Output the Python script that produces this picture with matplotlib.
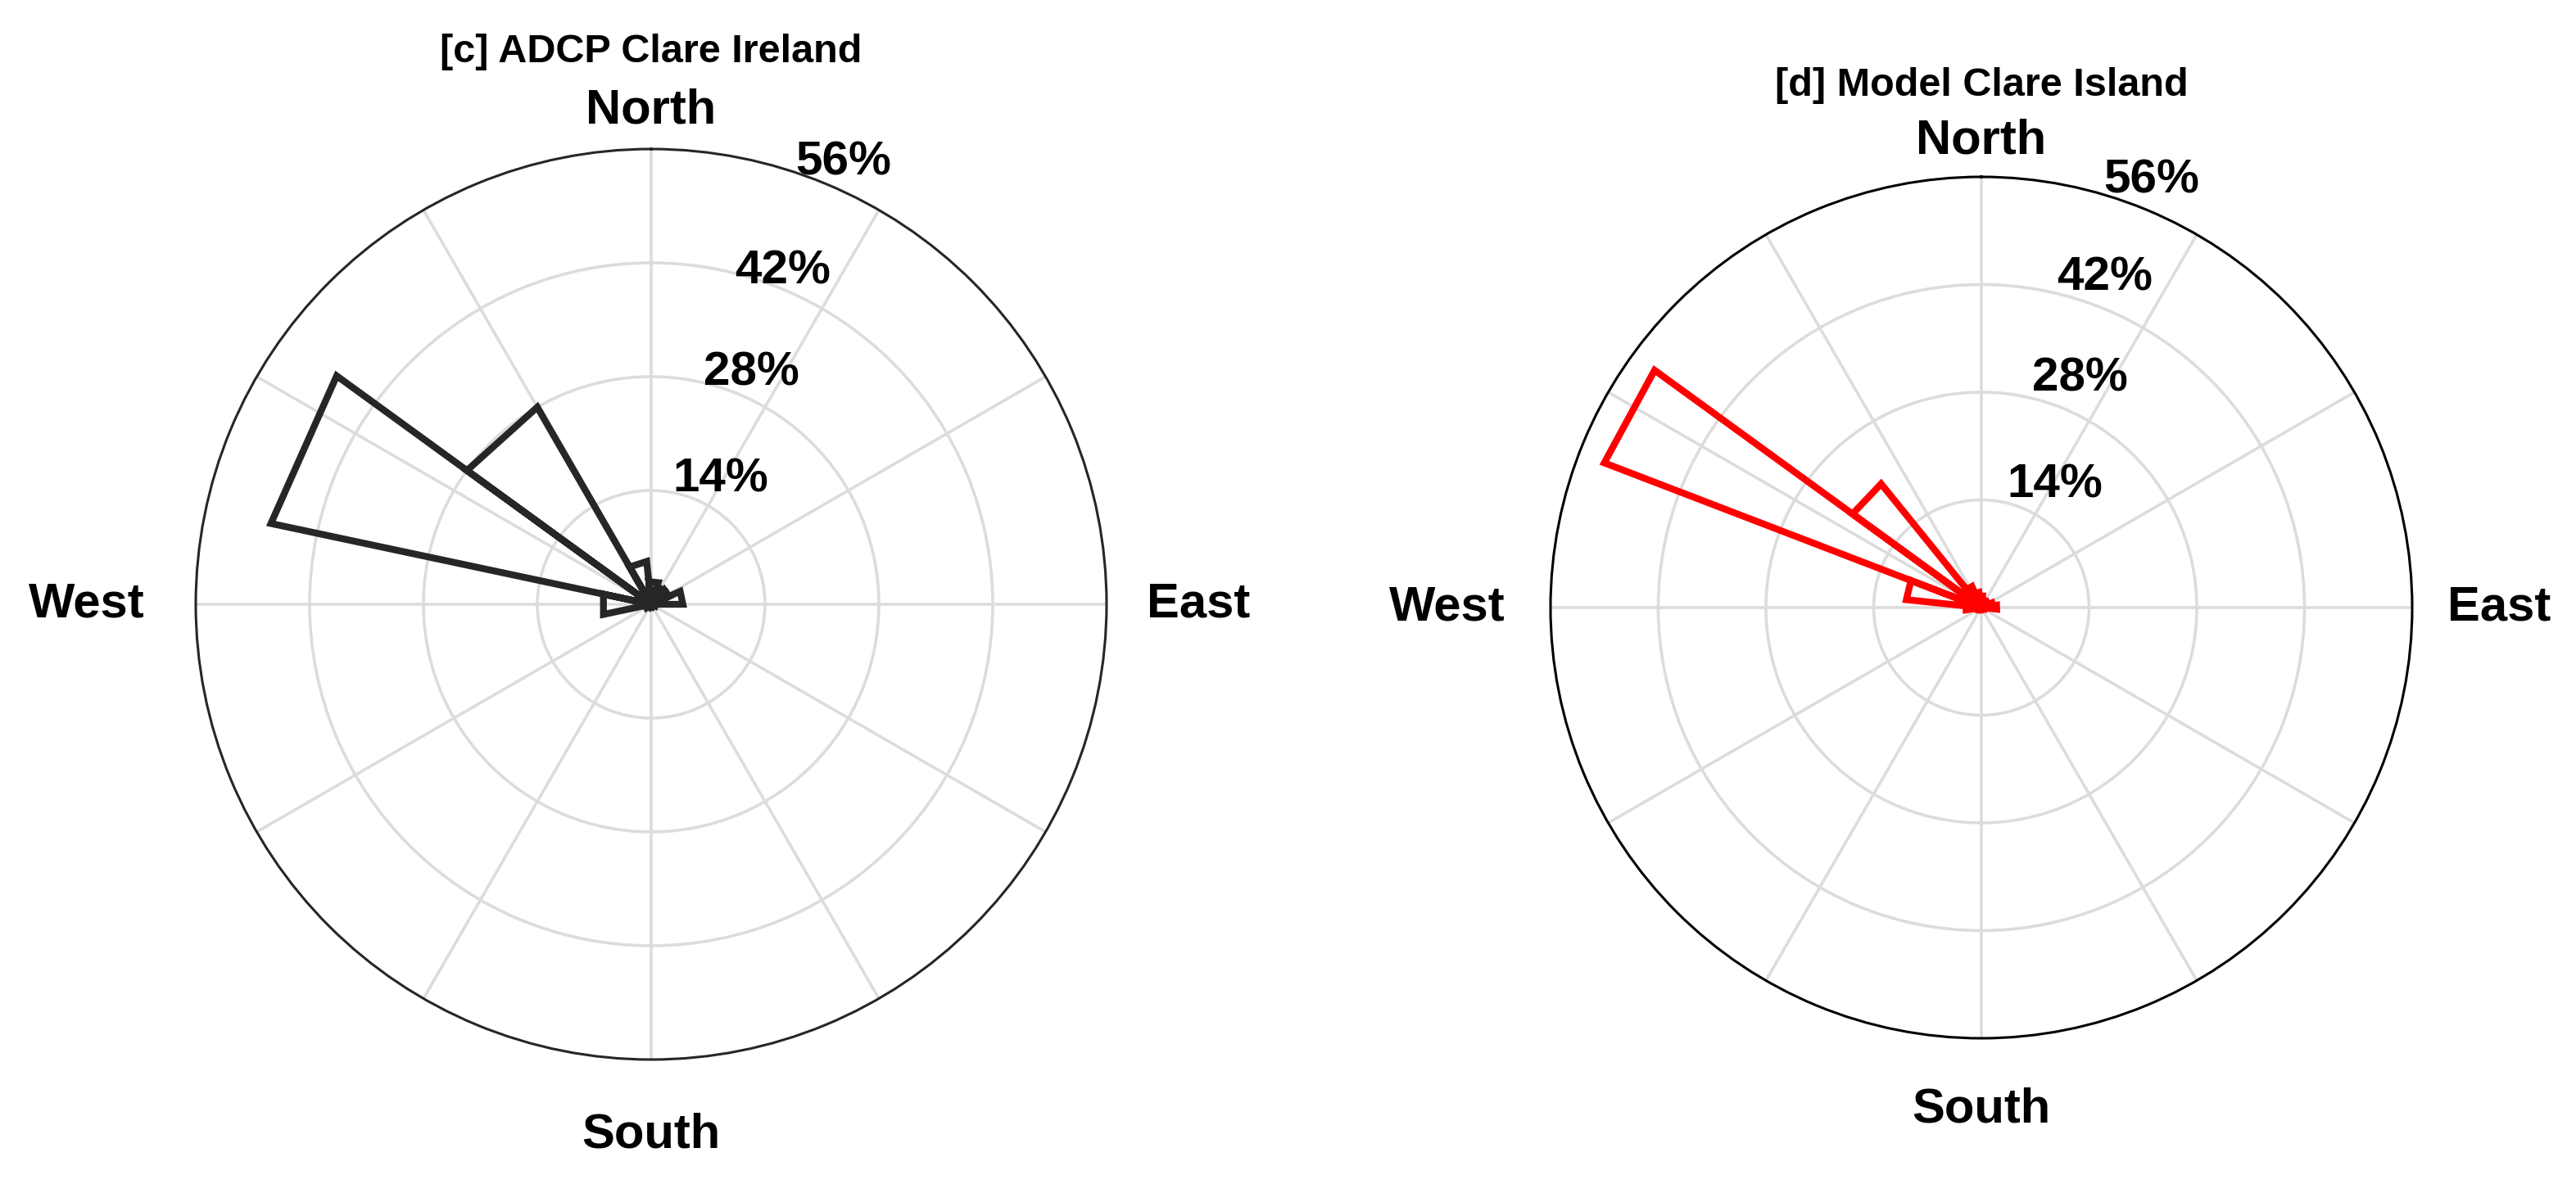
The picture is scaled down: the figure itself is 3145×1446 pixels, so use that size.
import numpy as np
import matplotlib.pyplot as plt

plt.rcParams['font.family'] = ['Liberation Sans', 'DejaVu Sans']
plt.rcParams['font.weight'] = 'bold'

# ---- data ----------------------------------------------------------------
RMAX = 56
ring_values = [14, 28, 42, 56]
ring_labels = ['14%', '28%', '42%', '56%']
compass_labels = ['North', 'East', 'South', 'West']

# [c] ADCP: 15 bins, 24 deg wide; start bearing of each bin (deg clockwise from N)
adcp_bin_start = [18, 42, 66, 90, 114, 138, 162, 186, 210, 234, 258, 282, 306, 330, 354]
adcp_pct = [2.3, 2.4, 3.9, 0.5, 0.3, 0.2, 0.2, 0.3, 0.4, 0.7, 6.0, 47.8, 28.0, 5.3, 2.8]
adcp_width = 24

# [d] Model: 24 bins, 15 deg wide
model_bin_start = [6, 21, 36, 51, 66, 81, 96, 111, 126, 141, 156, 171,
                   186, 201, 216, 231, 246, 261, 276, 291, 306, 321, 336, 351]
model_pct = [1.0, 0.8, 0.8, 1.0, 1.5, 2.0, 0.4, 0.2, 0.1, 0.1, 0.1, 0.1,
             0.1, 0.1, 0.2, 0.3, 0.5, 2.0, 9.8, 52.5, 20.7, 3.0, 2.0, 1.5]
model_width = 15

# ---- layout (pixels) ------------------------------------------------------
W, H = 3145, 1446
fig = plt.figure(figsize=(W / 100, H / 100), dpi=100)


def rose_axes(cx, cy, R):
    rect = [(cx - R) / W, (H - cy - R) / H, 2 * R / W, 2 * R / H]
    return fig.add_axes(rect, projection='polar')


def draw_rose(ax, starts, pct, width, color, title, edge_color, label_pos):
    ax.set_theta_zero_location('N')
    ax.set_theta_direction(-1)
    ax.set_ylim(0, RMAX)
    ax.set_xticks(np.deg2rad(np.arange(0, 360, 30)))
    ax.set_xticklabels([])
    ax.set_yticks(ring_values[:-1])
    ax.set_yticklabels([])
    ax.tick_params(length=0)
    ax.grid(True, color='#dcdcdc', lw=2.6)
    ax.spines['polar'].set_color(edge_color)
    ax.spines['polar'].set_linewidth(2.2)

    # MATLAB-style rose: one triangle per bin, drawn as a single line
    th, rr = [], []
    for s, v in zip(starts, pct):
        a = np.deg2rad([0, s, s + width, 0])
        th += list(a)
        rr += [0, v, v, 0]
    ax.plot(th, rr, color=color, lw=6, solid_joinstyle='miter', zorder=5)

    # ring labels
    for (b, r), lab in zip(label_pos, ring_labels):
        ax.text(np.deg2rad(b), r, lab, fontsize=42, fontweight='bold',
                ha='center', va='center', zorder=6)
    # compass labels
    for (b, r), lab in zip([(0, 60.7), (90, 67.3), (180, 65.3), (270, 69.4)], compass_labels):
        ax.text(np.deg2rad(b), r, lab, fontsize=43, fontweight='bold',
                ha='center', va='center')
    ax.text(0, 67.9, title, fontsize=35, fontweight='bold', ha='center', va='center')


ax1 = rose_axes(795, 738, 556)
draw_rose(ax1, adcp_bin_start, adcp_pct, adcp_width, '#262626',
          '[c] ADCP Clare Ireland', '#262626',
          [(29, 17.6), (23.5, 31.0), (21.5, 44.0), (23.5, 59.2)])

ax2 = rose_axes(2419, 742, 526)
draw_rose(ax2, model_bin_start, model_pct, model_width, '#ff0000',
          '[d] Model Clare Island', '#000000',
          [(31, 18.6), (23.4, 32.4), (20.5, 45.7), (21.7, 59.8)])

fig.savefig('out.png', dpi=100)
